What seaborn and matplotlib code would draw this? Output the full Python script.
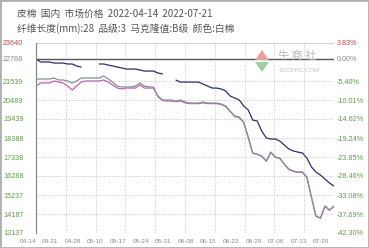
import numpy as np
import pandas as pd
import matplotlib
matplotlib.use("Agg")
import matplotlib.pyplot as plt
import seaborn as sns
from matplotlib.patches import Polygon, Rectangle

# ---------------- data ----------------
title_line1 = "皮棉  国内  市场价格  2022-04-14  2022-07-21"
title_line2 = "纤维长度(mm):28  品级:3  马克隆值:B级  颜色:白棉"

holidays = ["2022-05-02", "2022-05-03", "2022-05-04", "2022-06-03"]
dates = [d for d in pd.bdate_range("2022-04-14", "2022-07-21")
         if d.strftime("%Y-%m-%d") not in holidays]

nan = np.nan
navy_vals = [22768, 22590, 22590, 22590, 22530, 22530, 22530, 22480, 22480, 22370,
             22310, nan, nan, nan, 22480, 22480, 22420, 22370, 22310, 22260,
             22200, 22200, 22200, 22150, 22090, 22090, 22090, 21980, 21930, nan,
             nan, 21590, 21480, 21480, 21480, 21480, 21480, 21370, 21260, 21150,
             21150, 21100, 20990, 20710, 20600, 20490, 20160, 19940, 19380, 19330,
             18770, 18390, 18330, 18330, 18220, 18000, 17780, 17670, 17610, 17560,
             17280, 16790, 16510, 16340, 16120, 15900, 15730]

gray_vals = [21650, 21650, 21650, 21650, 21705, 21595, 21595, 21540, 21430, 21540,
             21705, 21705, 21705, 21705, 21705, 21815, 21650, 21480, 21260, 21210,
             21210, 21210, 21260, 21430, 21260, 21210, 21210, 20710, 20490, 20490,
             20490, 20430, 20490, 20380, 20320, 20320, 20320, 20380, 20320, 20320,
             20320, 20270, 20160, 19880, 19610, 19550, 19270, 18440, 17560, 17500,
             17390, 17120, 17610, 17340, 17280, 16950, 16670, 16560, 16510, 16510,
             16230, 15130, 14080, 13970, 14630, 14410, 14630]

pink_vals = [21260, 21430, 21430, 21430, 21540, 21480, 21430, 21260, 21040, 21260,
             21480, 21540, 21540, 21540, 21540, 21595, 21480, 21320, 21150, 21100,
             21150, 21150, 21150, 21320, 21150, 21150, 21150, 20680, 20460, 20430,
             20430, 20400, 20430, 20330, 20290, 20290, 20290, 20330, 20290, 20290,
             20290, 20240, 20130, 19860, 19580, 19520, 19240, 18420, 17540, 17480,
             17370, 17100, 17590, 17320, 17260, 16930, 16650, 16540, 16490, 16490,
             16210, 15110, 14060, 13950, 14610, 14390, 14610]

left_ticks = [23640, 22768, 21539, 20489, 19439, 18388, 17338, 16288, 15237, 14187, 13137]
left_labels = ["23640", "22768", "21539", "20489", "19439", "18388", "17338",
               "16288", "15237", "14187", "13137"]
right_labels = ["3.83%", "0.00%", "-5.40%", "-10.01%", "-14.62%", "-19.24%",
                "-23.85%", "-28.46%", "-33.08%", "-37.69%", "-42.30%"]
base_value = 22768

# ---------------- figure ----------------
sns.set_theme(style="white")
plt.rcParams["font.family"] = ["Noto Sans CJK SC", "DejaVu Sans"]

W, H = 369, 248
fig = plt.figure(figsize=(W / 100, H / 100), dpi=100)
ax = fig.add_axes([36 / W, (H - 233) / H, (334 - 36) / W, (233 - 43) / H])

n = len(dates)
idx = np.arange(n)

def segs(vals):
    s = pd.Series(vals, dtype=float)
    seg = s.isna().cumsum()
    return pd.DataFrame({"x": idx, "y": s, "seg": seg}).dropna()

for vals, color, lw in [(pink_vals, "#c760b5", 0.9),
                        (gray_vals, "#83928f", 0.9),
                        (navy_vals, "#2b2f6e", 0.9)]:
    df = segs(vals)
    sns.lineplot(data=df, x="x", y="y", units="seg", estimator=None,
                 color=color, lw=lw, ax=ax, legend=False)

ax.set_xlim(0, n - 1)
ax.set_ylim(min(left_ticks), max(left_ticks))
ax.set_xlabel("")
ax.set_ylabel("")

# grid
for t in left_ticks:
    if t == base_value:
        ax.axhline(t, color="#555555", lw=1.0, zorder=0)
    elif t == max(left_ticks):
        ax.axhline(t, color="#cfcfcf", lw=0.8, zorder=0)
    else:
        ax.axhline(t, color="#c8c8c8", lw=0.6, ls=(0, (1.5, 1.5)), zorder=0)
ax.set_xticks(np.linspace(0, n - 1, 11), minor=True)
ax.grid(False)
ax.grid(which="minor", axis="x", color="#cccccc", lw=0.6, ls=(0, (1.5, 1.5)))

for s in ["top", "right", "bottom"]:
    ax.spines[s].set_visible(False)
ax.spines["left"].set_color("#8a8a8a")
ax.spines["left"].set_linewidth(0.9)

num_font = "Liberation Sans"
green = "#5f9e45"
red = "#cc4444"
gray_lbl = "#888888"

def lbl_color(t):
    if t == max(left_ticks):
        return red
    if t == base_value:
        return gray_lbl
    return green

ax.set_yticks(left_ticks)
ax.set_yticklabels(left_labels, fontsize=5.2, family=num_font)
ax.tick_params(axis="y", length=0, pad=33 * 0.72)
for t, lab in zip(left_ticks, ax.get_yticklabels()):
    lab.set_horizontalalignment("left")
    lab.set_color(lbl_color(t))

ax2 = ax.twinx()
ax2.set_ylim(ax.get_ylim())
ax2.set_yticks(left_ticks)
ax2.set_yticklabels(right_labels, fontsize=5.2, family=num_font)
ax2.tick_params(axis="y", length=0, pad=2)
for t, lab in zip(left_ticks, ax2.get_yticklabels()):
    lab.set_color(lbl_color(t))
for s in ax2.spines.values():
    s.set_visible(False)
ax2.grid(False)

tick_pos = idx[::5]
ax.set_xticks(tick_pos)
ax.set_xticklabels([dates[i].strftime("%m-%d") for i in tick_pos],
                   fontsize=4.6, family=num_font, color="#8a8a8a", ha="right")
ax.tick_params(axis="x", which="both", length=0, pad=4.5)

# titles
fig.text(17 / W, 1 - 14 / H, title_line1, fontsize=7, color="#555555", va="center", ha="left")
fig.text(17 / W, 1 - 29 / H, title_line2, fontsize=7, color="#555555", va="center", ha="left")

# watermark logo
def px(x, y):
    return (x / W, 1 - y / H)
fig.patches.append(Polygon([px(255, 60), px(262, 50), px(269, 60)], closed=True,
                           transform=fig.transFigure, facecolor="#e8a0a0", edgecolor="none"))
fig.patches.append(Polygon([px(255, 62), px(262, 72), px(269, 62)], closed=True,
                           transform=fig.transFigure, facecolor="#9fcf9f", edgecolor="none"))
fig.text(278 / W, 1 - 56 / H, "牛 商 社", fontsize=8, color="#bbbbbb", va="center", ha="left")
fig.text(278 / W, 1 - 70 / H, "1CCFPC.COM", fontsize=4.5, color="#c0c0c0", va="center",
         ha="left", family=num_font)

# outer border
fig.patches.append(Rectangle((0, 0), 1, 1, transform=fig.transFigure, fill=False,
                             edgecolor="#b0b0b0", lw=2))

fig.savefig("out.png", dpi=100)
